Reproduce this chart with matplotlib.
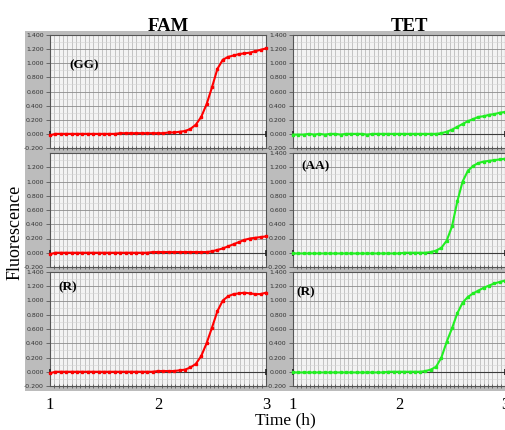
import matplotlib
matplotlib.use('Agg')
import matplotlib.pyplot as plt
import numpy as np
from matplotlib.patches import Rectangle
from matplotlib.ticker import MultipleLocator, FormatStrFormatter, FixedLocator

# time axis (h), one reading every 3 min
time_h = np.linspace(1.0, 3.0, 41)

# FAM channel
fam_gg = [-0.02, 0.00, 0.00, 0.00, 0.00, 0.00, 0.00, 0.00, 0.00, 0.00,
          0.00, 0.00, 0.00, 0.01, 0.01, 0.01, 0.01, 0.01, 0.01, 0.01,
          0.01, 0.01, 0.02, 0.02, 0.03, 0.04, 0.07, 0.13, 0.24, 0.42,
          0.66, 0.92, 1.05, 1.09, 1.11, 1.13, 1.14, 1.15, 1.17, 1.19, 1.21]
fam_aa = [-0.02, 0.00, 0.00, 0.00, 0.00, 0.00, 0.00, 0.00, 0.00, 0.00,
          0.00, 0.00, 0.00, 0.00, 0.00, 0.00, 0.00, 0.00, 0.00, 0.01,
          0.01, 0.01, 0.01, 0.01, 0.01, 0.01, 0.01, 0.01, 0.01, 0.01,
          0.02, 0.04, 0.06, 0.09, 0.12, 0.15, 0.18, 0.20, 0.21, 0.22, 0.23]
fam_r = [-0.02, 0.00, 0.00, 0.00, 0.00, 0.00, 0.00, 0.00, 0.00, 0.00,
         0.00, 0.00, 0.00, 0.00, 0.00, 0.00, 0.00, 0.00, 0.00, 0.00,
         0.01, 0.01, 0.01, 0.01, 0.02, 0.03, 0.06, 0.11, 0.22, 0.40,
         0.62, 0.85, 1.00, 1.06, 1.09, 1.10, 1.11, 1.10, 1.09, 1.09, 1.11]

# TET channel
tet_gg = [-0.01, -0.01, -0.01, 0.00, -0.01, 0.00, -0.01, 0.00, 0.00, -0.01,
          0.00, 0.00, 0.00, 0.00, -0.01, 0.00, 0.00, 0.00, 0.00, 0.00,
          0.00, 0.00, 0.00, 0.00, 0.00, 0.00, 0.00, 0.00, 0.01, 0.03,
          0.06, 0.10, 0.14, 0.18, 0.21, 0.24, 0.25, 0.27, 0.28, 0.30, 0.31]
tet_aa = [-0.01, -0.01, -0.01, -0.01, -0.01, -0.01, -0.01, -0.01, -0.01, -0.01,
          -0.01, -0.01, -0.01, -0.01, -0.01, -0.01, -0.01, -0.01, -0.01, -0.01,
          -0.01, 0.00, 0.00, 0.00, 0.00, 0.00, 0.01, 0.03, 0.07, 0.17,
          0.37, 0.72, 1.00, 1.15, 1.22, 1.26, 1.28, 1.29, 1.30, 1.31, 1.32]
tet_r = [-0.01, -0.01, -0.01, -0.01, -0.01, -0.01, -0.01, -0.01, -0.01, -0.01,
         -0.01, -0.01, -0.01, -0.01, -0.01, -0.01, -0.01, -0.01, 0.00, 0.00,
         0.00, 0.00, 0.00, 0.00, 0.00, 0.01, 0.03, 0.07, 0.20, 0.42,
         0.61, 0.82, 0.97, 1.05, 1.10, 1.14, 1.18, 1.21, 1.24, 1.26, 1.28]

channels = ['FAM', 'TET']
x_ticks = [1, 2, 3]

W, H = 506, 430
fig = plt.figure(figsize=(W / 100, H / 100), dpi=100)


def px_rect(x0, y0, x1, y1):
    return [x0 / W, 1 - y1 / H, (x1 - x0) / W, (y1 - y0) / H]


# gray frame behind the panels
fig.add_artist(Rectangle((25 / W, 1 - 391 / H), (506 - 25) / W, (391 - 31) / H,
                         transform=fig.transFigure, facecolor='#bcbcbc',
                         edgecolor='none', zorder=0))

rows = [(35, 148), (153, 267), (272, 386)]
cols = [(50, 266), (293, 505)]

panels = [
    (0, 0, fam_gg, '#ff0000', '(GG)', (0.09, 0.735)),
    (1, 0, fam_aa, '#ff0000', None, None),
    (2, 0, fam_r, '#ff0000', '(R)', (0.04, 0.864)),
    (0, 1, tet_gg, '#22ee22', None, None),
    (1, 1, tet_aa, '#22ee22', '(AA)', (0.04, 0.88)),
    (2, 1, tet_r, '#22ee22', '(R)', (0.015, 0.82)),
]

for r, c, vals, color, label, pos in panels:
    x0, x1 = cols[c]
    y0, y1 = rows[r]
    ax = fig.add_axes(px_rect(x0, y0, x1, y1))
    ax.set_facecolor('#f3f3f3')
    ax.set_xlim(1, 3)
    ax.set_ylim(-0.2, 1.4)

    ax.yaxis.set_major_locator(MultipleLocator(0.2))
    ax.yaxis.set_minor_locator(MultipleLocator(0.1))
    ax.yaxis.set_major_formatter(FormatStrFormatter('%.3f'))
    ax.xaxis.set_major_locator(FixedLocator(x_ticks))
    ax.xaxis.set_minor_locator(MultipleLocator(0.04))

    ax.grid(which='major', axis='y', color='#8c8c8c', lw=0.6)
    ax.grid(which='minor', axis='y', color='#d4d4d4', lw=0.4)
    ax.grid(which='minor', axis='x', color='#a8a8a8', lw=0.45)
    ax.grid(which='major', axis='x', color='#a8a8a8', lw=0.45)
    ax.set_axisbelow(True)

    ax.tick_params(axis='y', which='major', labelsize=4.5, labelcolor='#333333',
                   length=3, width=0.5, pad=1.5, color='#444444')
    ax.tick_params(axis='y', which='minor', length=0)
    ax.tick_params(axis='x', which='minor', direction='inout', length=3.5,
                   width=0.5, color='#444444')
    if r == 2:
        ax.tick_params(axis='x', which='major', length=0, pad=8,
                       labelsize=12)
        for t in ax.get_xticklabels():
            t.set_family('Liberation Serif')
    else:
        ax.tick_params(axis='x', which='major', length=0, labelbottom=False)
    if r == 1 and c == 0:
        ax.set_yticks([-0.2, 0.0, 0.2, 0.4, 0.6, 0.8, 1.0, 1.2])

    for s in ax.spines.values():
        s.set_color('#555555')
        s.set_linewidth(0.8)

    # threshold / baseline at zero
    ax.axhline(0, color='#3a3a3a', lw=0.8, zorder=2)
    ax.plot([1, 3], [0, 0], ls='none', marker='|', ms=4, mew=1.2,
            color='#222222', clip_on=False, zorder=3)

    ax.plot(time_h, vals, color=color, lw=1.5, marker='s', ms=2.1,
            mec=color, zorder=4, clip_on=False)

    if label:
        ax.text(pos[0], pos[1], label, transform=ax.transAxes,
                fontsize=9.5, fontweight='bold', family='Liberation Serif',
                va='center', ha='left')

    if r == 0:
        ax.text(0.55, 1.0, channels[c], transform=ax.transAxes,
                fontsize=13.5, fontweight='bold', family='Liberation Serif',
                ha='center', va='bottom')

fig.text(15 / W, 1 - 232 / H, 'Fluorescence', rotation=90, fontsize=13,
         family='Liberation Serif', ha='center', va='center')
fig.text(285 / W, 1 - 420 / H, 'Time (h)', fontsize=12.5,
         family='Liberation Serif', ha='center', va='center')

fig.savefig('out.png', dpi=100)
